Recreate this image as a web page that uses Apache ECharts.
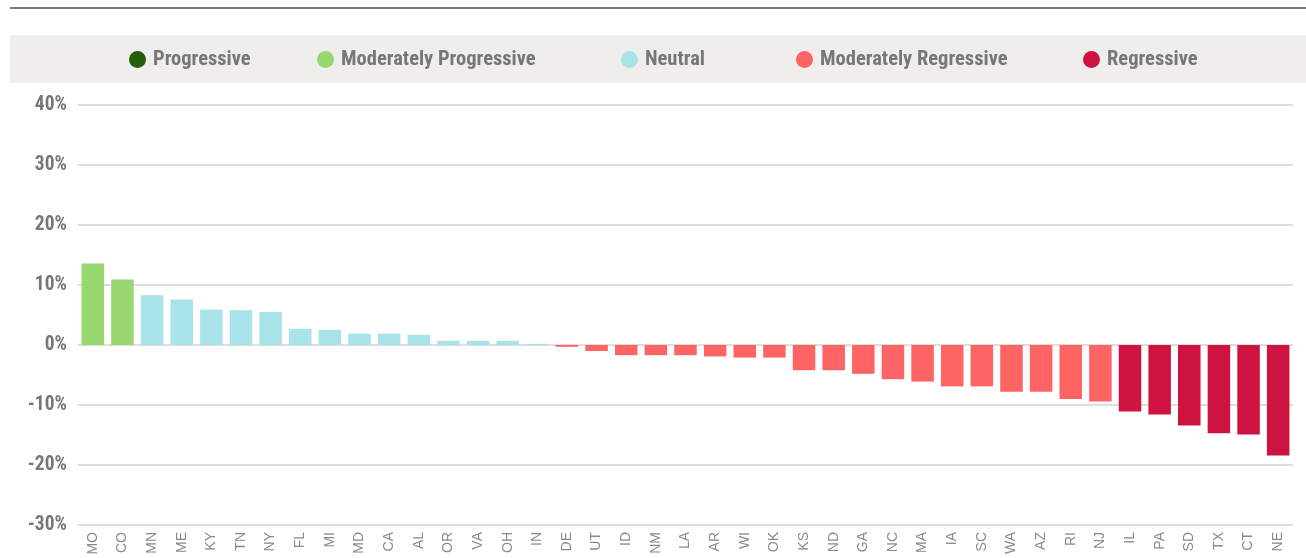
<!DOCTYPE html>
<html><head><meta charset="utf-8">
<script src="https://cdn.jsdelivr.net/npm/echarts@6/dist/echarts.min.js"></script>
<style>html,body{margin:0;padding:0;background:#fff}#c{width:1306px;height:558px}</style>
</head><body><div id="c"></div>
<script>
const states = ['MO','CO','MN','ME','KY','TN','NY','FL','MI','MD','CA','AL','OR','VA','OH','IN','DE','UT','ID','NM','LA','AR','WI','OK','KS','ND','GA','NC','MA','IA','SC','WA','AZ','RI','NJ','IL','PA','SD','TX','CT','NE'];
const values = [13.6,10.9,8.3,7.6,5.9,5.8,5.5,2.7,2.5,1.9,1.9,1.7,0.7,0.7,0.7,0.2,-0.3,-1.0,-1.7,-1.7,-1.7,-1.9,-2.1,-2.1,-4.2,-4.2,-4.8,-5.7,-6.1,-6.9,-6.9,-7.8,-7.8,-9.0,-9.4,-11.1,-11.6,-13.4,-14.7,-14.9,-18.4];
const classes = ['MP','MP','N','N','N','N','N','N','N','N','N','N','N','N','N','N','MR','MR','MR','MR','MR','MR','MR','MR','MR','MR','MR','MR','MR','MR','MR','MR','MR','MR','MR','R','R','R','R','R','R'];
const classKeys = ['P','MP','N','MR','R'];
const classNames = ['Progressive','Moderately Progressive','Neutral','Moderately Regressive','Regressive'];
const classColors = ['#255d0b','#98d670','#a8e3ea','#ff6464','#cf1340'];
const legendLefts = [129,317,621,796,1083];

const font = "'Liberation Sans Narrow','Roboto Condensed','Arial Narrow',sans-serif";
const chart = echarts.init(document.getElementById('c'));
const series = classKeys.map((k,ci)=>({
  name: classNames[ci], type:'bar', stack:'all', barWidth:'76%',
  itemStyle:{color:classColors[ci]},
  data: values.map((v,i)=> classes[i]===k ? v : '-')
}));
chart.setOption({
  animation:false,
  graphic:[
    {type:'rect', shape:{x:10,y:35,width:1296,height:48}, style:{fill:'#efeeec'}, z:-1},
    {type:'line', shape:{x1:10,y1:8,x2:1306,y2:8}, style:{stroke:'#7a7a7a',lineWidth:2}}
  ],
  legend: classNames.map((n,i)=>({
    data:[n], left:legendLefts[i], top:49, padding:0, icon:'circle', itemWidth:17, itemHeight:17,
    selectedMode:false,
    textStyle:{fontFamily:font, fontWeight:'bold', fontSize:20.5, color:'#777', padding:[0,0,0,2]}
  })),
  grid:{left:78, right:13, top:105, bottom:33},
  xAxis:{type:'category', data:states,
    axisLine:{show:false}, axisTick:{show:false},
    axisLabel:{rotate:90, fontSize:14, color:'#8a8a8a', margin:7, interval:0, fontFamily:'Liberation Sans, Arial, sans-serif'}},
  yAxis:{type:'value', min:-30, max:40, interval:10,
    axisLabel:{formatter:v=>v+'%', fontFamily:font, fontWeight:'bold', fontSize:19.5, color:'#777', margin:11},
    splitLine:{lineStyle:{color:'#d4d3cf', width:1.5}},
    axisLine:{show:false}, axisTick:{show:false}},
  series
});
</script></body></html>
